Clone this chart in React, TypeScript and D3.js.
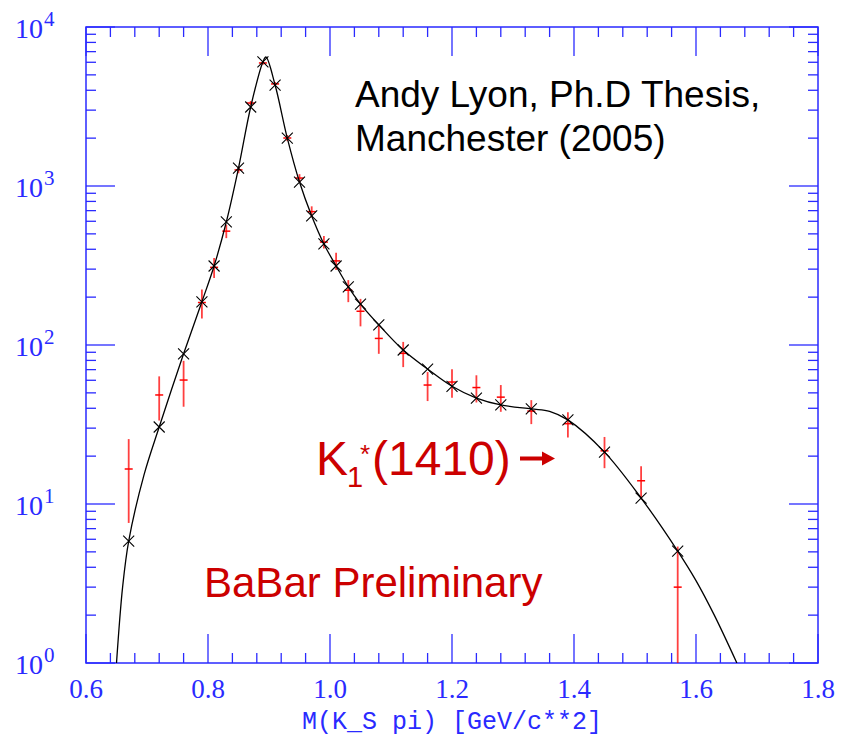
import React from "react";
import * as d3 from "d3";

// ---- data ----
const massBins = [0.67, 0.72, 0.76, 0.79, 0.81, 0.83, 0.85, 0.87, 0.89, 0.91, 0.93, 0.95, 0.97, 0.99, 1.01, 1.03, 1.05, 1.08, 1.12, 1.16, 1.20, 1.24, 1.28, 1.33, 1.39, 1.45, 1.51, 1.57];
const dataCounts = [16.6, 48.5, 60.2, 185, 308, 520, 1262, 3325, 5940, 4385, 2004, 1122, 690, 444, 338, 221, 163, 110, 88.6, 56, 58.5, 54, 47, 38.4, 32, 21.6, 14, 3.0];
const dataErrors = [9, 15, 19.3, 38, 44, 50, 60, 100, 150, 130, 90, 65, 55, 40, 42, 35, 32, 22, 16, 11.6, 12, 10.5, 9, 6.6, 5.8, 4.8, 3.3, 2.4];
const fitCounts = [5.85, 30.5, 88, 187, 314, 594, 1297, 3140, 6030, 4315, 2000, 1059, 648, 432, 314, 232, 181, 134, 93, 70.6, 55, 46.4, 42, 39.6, 33.8, 21.2, 10.9, 5.06];

const curveMass = [0.650, 0.660, 0.670, 0.695, 0.720, 0.760, 0.790, 0.810, 0.830, 0.850, 0.870, 0.890, 0.895, 0.910, 0.930, 0.950, 0.970, 0.990, 1.010, 1.030, 1.050, 1.080, 1.120, 1.160, 1.200, 1.240, 1.280, 1.330, 1.360, 1.390, 1.450, 1.510, 1.570, 1.600, 1.630, 1.667];
const curveCounts = [1.0, 3.0, 5.85, 15.2, 30.5, 88, 187, 314, 594, 1297, 3140, 6030, 6475, 4315, 2000, 1059, 648, 432, 314, 232, 181, 134, 93, 70.6, 55, 46.4, 42, 39.6, 38.3, 33.8, 21.2, 10.9, 5.06, 3.3, 2.0, 1.0];

const xTickLabels = ["0.6", "0.8", "1.0", "1.2", "1.4", "1.6", "1.8"];
const yDecades = [0, 1, 2, 3, 4];
const xTitle = "M(K_S pi) [GeV/c**2]";

const BLUE = "#2a2aff";
const RED_TEXT = "#cc0000";

export default function App() {
  const W = 841, H = 736;
  const x = d3.scaleLinear().domain([0.6, 1.8]).range([86, 818]);
  const y = d3.scaleLog().domain([1, 1e4]).range([663, 27]);
  const [x0, x1] = x.range();
  const [y0, y1] = y.range();

  const xMinor = d3.range(0, 31).map((i) => 0.6 + i * 0.04);
  const xMajor = xTickLabels.map((t) => +t);
  const yMinor: number[] = [];
  yDecades.slice(0, -1).forEach((d) => {
    for (let k = 2; k <= 9; k++) yMinor.push(k * Math.pow(10, d));
  });

  const line = d3
    .line<number>()
    .x((_, i) => x(curveMass[i]))
    .y((v) => y(v))
    .curve(d3.curveCatmullRom.alpha(0.5));

  const clip = (v: number) => Math.max(y1, Math.min(y0, v));

  return (
    <svg width={W} height={H} style={{ position: "absolute", left: 0, top: 0, background: "#fff" }}>
      <defs>
        <clipPath id="plot">
          <rect x={x0} y={y1} width={x1 - x0} height={y0 - y1} />
        </clipPath>
      </defs>

      {/* frame */}
      <rect x={x0} y={y1} width={x1 - x0} height={y0 - y1} fill="none" stroke={BLUE} strokeWidth={1.5} />

      {/* x ticks */}
      {xMinor.map((m, i) => {
        const major = i % 5 === 0;
        const L = major ? 29 : 10;
        const px = x(m);
        return (
          <g key={"xt" + i} stroke={BLUE} strokeWidth={1.3}>
            <line x1={px} x2={px} y1={y0} y2={y0 - L} />
            <line x1={px} x2={px} y1={y1} y2={y1 + L} />
          </g>
        );
      })}
      {/* y ticks */}
      {yDecades.map((d) => {
        const py = y(Math.pow(10, d));
        return (
          <g key={"yM" + d} stroke={BLUE} strokeWidth={1.3}>
            <line x1={x0} x2={x0 + 29} y1={py} y2={py} />
            <line x1={x1} x2={x1 - 29} y1={py} y2={py} />
          </g>
        );
      })}
      {yMinor.map((v, i) => {
        const py = y(v);
        return (
          <g key={"ym" + i} stroke={BLUE} strokeWidth={1.3}>
            <line x1={x0} x2={x0 + 10} y1={py} y2={py} />
            <line x1={x1} x2={x1 - 10} y1={py} y2={py} />
          </g>
        );
      })}

      {/* tick labels */}
      {xMajor.map((m, i) => (
        <text key={"xl" + i} x={x(m)} y={698} textAnchor="middle" fill={BLUE}
          fontFamily="Liberation Serif" fontSize={27}>
          {xTickLabels[i]}
        </text>
      ))}
      {yDecades.map((d) => (
        <text key={"yl" + d} x={15} y={y(Math.pow(10, d)) + 11} fill={BLUE}
          fontFamily="Liberation Serif" fontSize={28}>
          10
          <tspan dx={1} dy={-12} fontSize={21}>{d}</tspan>
        </text>
      ))}
      <text x={452} y={729} textAnchor="middle" fill={BLUE} fontFamily="Liberation Mono" fontSize={25}>
        {xTitle}
      </text>

      <g clipPath="url(#plot)">
        {/* data error bars */}
        {massBins.map((m, i) => {
          const px = x(m);
          const top = clip(y(dataCounts[i] + dataErrors[i]));
          const lo = dataCounts[i] - dataErrors[i];
          const bot = lo > 0 ? clip(y(lo)) : y0;
          const cy = y(dataCounts[i]);
          return (
            <g key={"d" + i} stroke="#ff0000">
              <line x1={px} x2={px} y1={top} y2={bot} strokeWidth={1.8} strokeOpacity={0.75} />
              <line x1={px - 4} x2={px + 4} y1={cy} y2={cy} strokeWidth={1.5} />
            </g>
          );
        })}
        {/* fit curve */}
        <path d={line(curveCounts) || ""} fill="none" stroke="#000" strokeWidth={1.3} />
        {/* fit markers */}
        {massBins.map((m, i) => {
          const px = x(m);
          const py = y(fitCounts[i]);
          const s = 5.5;
          return (
            <path key={"f" + i} d={`M${px - s},${py - s}L${px + s},${py + s}M${px - s},${py + s}L${px + s},${py - s}`}
              stroke="#000" strokeWidth={1.1} fill="none" />
          );
        })}
      </g>

      {/* annotations */}
      <text x={355} y={107} fontFamily="Liberation Sans" fontSize={37} fill="#000">Andy Lyon, Ph.D Thesis,</text>
      <text x={355} y={151} fontFamily="Liberation Sans" fontSize={37} fill="#000">Manchester (2005)</text>

      <text x={316} y={475} fontFamily="Liberation Sans" fontSize={48} fill={RED_TEXT}>K</text>
      <text x={347} y={487} fontFamily="Liberation Sans" fontSize={29} fill={RED_TEXT}>1</text>
      <text x={360} y={463} fontFamily="Liberation Sans" fontSize={26} fill={RED_TEXT}>*</text>
      <text x={372} y={475} fontFamily="Liberation Sans" fontSize={48} fill={RED_TEXT}>(1410)</text>
      <path d="M520,456.5 L542,456.5 L542,451.5 L555,458.5 L542,465.5 L542,460.5 L520,460.5 Z" fill={RED_TEXT} />

      <text x={204} y={597} fontFamily="Liberation Sans" fontSize={42} fill={RED_TEXT}>BaBar Preliminary</text>
    </svg>
  );
}
